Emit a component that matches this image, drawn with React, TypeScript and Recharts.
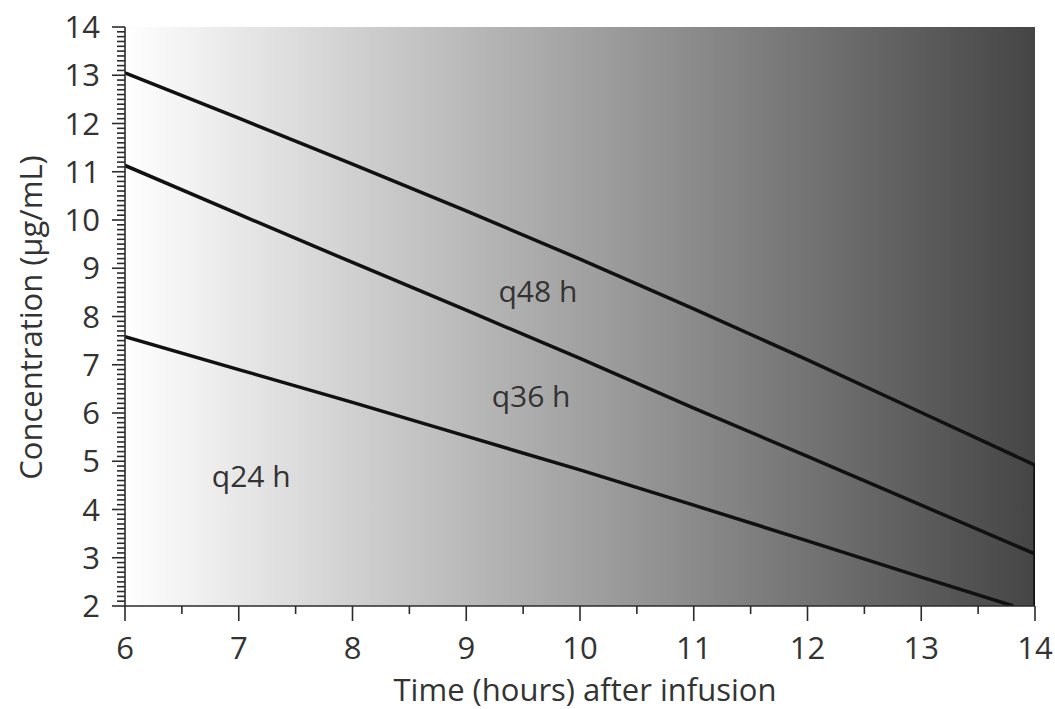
import React from "react";
import {
  LineChart,
  Line,
  XAxis,
  YAxis,
  ReferenceArea,
  ReferenceDot,
} from "recharts";

// hours after infusion vs. concentration
const q48 = [
  { x: 6, y: 13.05 },
  { x: 7, y: 12.11 },
  { x: 8, y: 11.16 },
  { x: 9, y: 10.19 },
  { x: 10, y: 9.19 },
  { x: 11, y: 8.16 },
  { x: 12, y: 7.1 },
  { x: 13, y: 6.01 },
  { x: 14, y: 4.92 },
];

const q36 = [
  { x: 6, y: 11.13 },
  { x: 7, y: 10.12 },
  { x: 8, y: 9.12 },
  { x: 9, y: 8.13 },
  { x: 10, y: 7.13 },
  { x: 11, y: 6.1 },
  { x: 12, y: 5.1 },
  { x: 13, y: 4.09 },
  { x: 14, y: 3.08 },
];

const q24 = [
  { x: 6, y: 7.58 },
  { x: 7, y: 6.9 },
  { x: 8, y: 6.22 },
  { x: 9, y: 5.52 },
  { x: 10, y: 4.82 },
  { x: 11, y: 4.09 },
  { x: 12, y: 3.35 },
  { x: 13, y: 2.6 },
  { x: 13.81, y: 2.0 },
];

// closing edge on the right side
const edge = [
  { x: 14, y: 2 },
  { x: 14, y: 4.92 },
];

const seriesLabels = [
  { name: "q48 h", x: 9.63, y: 8.3 },
  { name: "q36 h", x: 9.57, y: 6.12 },
  { name: "q24 h", x: 7.11, y: 4.47 },
];

const xMajor = [6, 7, 8, 9, 10, 11, 12, 13, 14];
const yMajor = [2, 3, 4, 5, 6, 7, 8, 9, 10, 11, 12, 13, 14];

const xTicks: number[] = [];
for (let i = 12; i <= 28; i++) xTicks.push(i / 2);
const yTicks: number[] = [];
for (let i = 20; i <= 140; i++) yTicks.push(i / 10);

const FONT = "'Open Sans', sans-serif";
const TEXT = "#333";
const AXIS = "#2b2b2b";
const LINE = "#111";

const YTick = (props: any) => {
  const { x, y, payload } = props;
  const v = payload.value;
  const major = yMajor.includes(v);
  return (
    <g>
      <line x1={x} x2={x - (major ? 13 : 8)} y1={y} y2={y} stroke={AXIS} strokeWidth={1.6} />
      {major && (
        <text x={x - 25} y={y + 11} textAnchor="end" fontSize={31} fill={TEXT} fontFamily={FONT}>
          {v}
        </text>
      )}
    </g>
  );
};

const XTick = (props: any) => {
  const { x, y, payload } = props;
  const v = payload.value;
  const major = xMajor.includes(v);
  return (
    <g>
      <line x1={x} x2={x} y1={y} y2={y + (major ? 15 : 8)} stroke={AXIS} strokeWidth={1.6} />
      {major && (
        <text x={x} y={y + 53} textAnchor="middle" fontSize={31} fill={TEXT} fontFamily={FONT}>
          {v}
        </text>
      )}
    </g>
  );
};

export default function App() {
  return (
    <div
      style={{
        position: "fixed",
        left: 0,
        top: 0,
        width: 1055,
        height: 709,
        overflow: "hidden",
        background: "#fff",
      }}
    >
      <LineChart
        width={1055}
        height={709}
        margin={{ top: 27, right: 20, bottom: 0, left: 0 }}
      >
        <defs>
          <linearGradient id="bgGrad" x1="0" y1="0" x2="1" y2="0">
            <stop offset="0%" stopColor="#ffffff" />
            <stop offset="100%" stopColor="#454545" />
          </linearGradient>
        </defs>
        <ReferenceArea
          x1={6}
          x2={14}
          y1={2}
          y2={14}
          fill="url(#bgGrad)"
          fillOpacity={1}
          stroke="none"
        />
        <XAxis
          type="number"
          dataKey="x"
          domain={[6, 14]}
          ticks={xTicks}
          interval={0}
          height={103}
          tickSize={0}
          tickMargin={0}
          tickLine={false}
          tick={<XTick />}
          stroke={AXIS}
          strokeWidth={1.6}
          allowDataOverflow
          label={{
            content: ({ viewBox }: any) => (
              <text
                x={viewBox.x + viewBox.width / 2 + 5}
                y={viewBox.y + 95}
                textAnchor="middle"
                fontSize={31}
                fill={TEXT}
                fontFamily={FONT}
              >
                Time (hours) after infusion
              </text>
            ),
          }}
        />
        <YAxis
          type="number"
          dataKey="y"
          domain={[2, 14]}
          ticks={yTicks}
          interval={0}
          width={125}
          tickSize={0}
          tickMargin={0}
          tickLine={false}
          tick={<YTick />}
          stroke={AXIS}
          strokeWidth={1.6}
          allowDataOverflow
          label={{
            content: ({ viewBox }: any) => {
              const cx = 42;
              const cy = viewBox.y + viewBox.height / 2 + 1;
              return (
                <text
                  x={cx}
                  y={cy}
                  transform={`rotate(-90, ${cx}, ${cy})`}
                  textAnchor="middle"
                  fontSize={31}
                  fill={TEXT}
                  fontFamily={FONT}
                >
                  Concentration (µg/mL)
                </text>
              );
            },
          }}
        />
        <Line data={q48} dataKey="y" stroke={LINE} strokeWidth={3.5} dot={false} isAnimationActive={false} />
        <Line data={q36} dataKey="y" stroke={LINE} strokeWidth={3.5} dot={false} isAnimationActive={false} />
        <Line data={q24} dataKey="y" stroke={LINE} strokeWidth={3.5} dot={false} isAnimationActive={false} />
        <Line data={edge} dataKey="y" stroke={LINE} strokeWidth={3.5} dot={false} isAnimationActive={false} />
        {seriesLabels.map((l) => (
          <ReferenceDot
            key={l.name}
            x={l.x}
            y={l.y}
            r={0}
            shape={(p: any) => (
              <text x={p.cx} y={p.cy} textAnchor="middle" fontSize={30} fill={TEXT} fontFamily={FONT}>
                {l.name}
              </text>
            )}
          />
        ))}
      </LineChart>
    </div>
  );
}
